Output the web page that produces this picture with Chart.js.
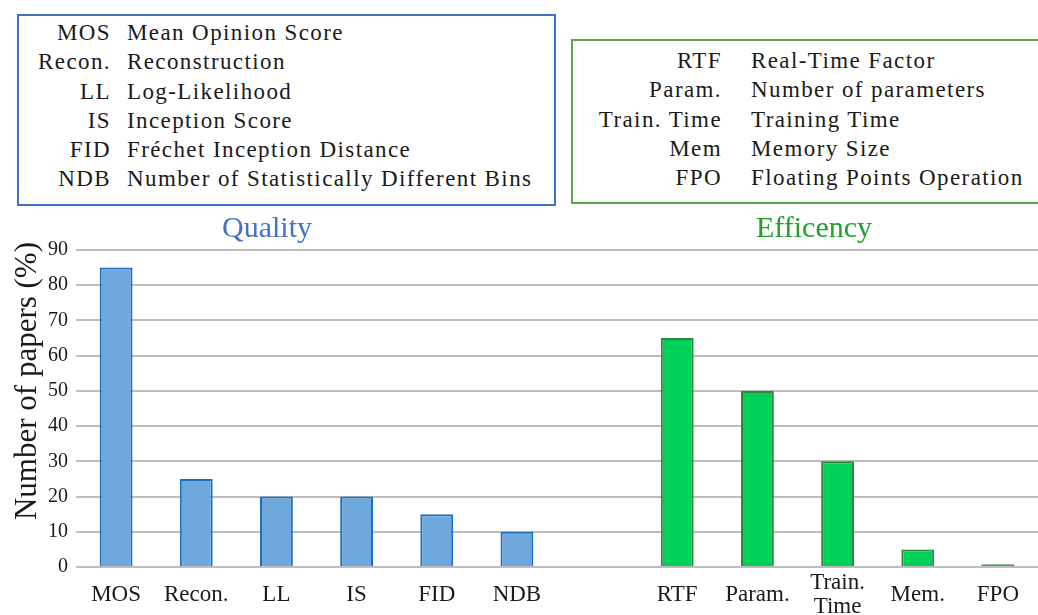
<!DOCTYPE html>
<html>
<head>
<meta charset="utf-8">
<script src="https://cdn.jsdelivr.net/npm/chart.js@4.4.0/dist/chart.umd.min.js"></script>
<style>
  html, body { margin: 0; padding: 0; background: #fff; }
  body { width: 1038px; height: 615px; position: relative; overflow: hidden; font-family: "Liberation Serif", "DejaVu Serif", serif; color: #1a1a1a; }
  #wrap { position: absolute; left: 0; top: 0; width: 1038px; height: 615px; }
  .box { position: absolute; background: #fff; font-size: 23px; letter-spacing: 1.4px; }
  .box table { border-collapse: collapse; }
  .box td { padding: 0; height: 29.3px; line-height: 29.3px; white-space: nowrap; }
  .box td.ab { text-align: right; padding-right: 16px; }
  #qbox { left: 17px; top: 14px; width: 535px; height: 188px; border: 2px solid #4472c4; }
  #qbox table { position: absolute; left: 2px; top: 2px; }
  #qbox td.ab { width: 90px; }
  #ebox { left: 571px; top: 39px; width: 480px; height: 161px; border: 2px solid #5aa54a; }
  #ebox table { position: absolute; left: 17px; top: 5px; }
  #ebox td.ab { width: 132px; padding-right: 29px; }
  .title { position: absolute; top: 210px; font-size: 30px; }
  #qt { left: 222px; color: #4472c4; }
  #et { left: 756px; color: #22a02c; }
  #ytitle { position: absolute; left: -124px; top: 365px; width: 300px; height: 32px; line-height: 32px;
            text-align: center; font-size: 31px; transform: rotate(-90deg); transform-origin: 150px 16px; white-space: nowrap; }
</style>
</head>
<body>
<div id="wrap"><canvas id="c" width="1038" height="615"></canvas></div>
<div class="box" id="qbox"><table id="qtab"></table></div>
<div class="box" id="ebox"><table id="etab"></table></div>
<div class="title" id="qt">Quality</div>
<div class="title" id="et">Efficency</div>
<div id="ytitle">Number of papers (%)</div>
<script>
const qualityLabels = ['MOS', 'Recon.', 'LL', 'IS', 'FID', 'NDB'];
const qualityValues = [85, 25, 20, 20, 15, 10];
const efficiencyLabels = ['RTF', 'Param.', ['Train.', 'Time'], 'Mem.', 'FPO'];
const efficiencyValues = [65, 50, 30, 5, 0.8];
const yTicks = [0, 10, 20, 30, 40, 50, 60, 70, 80, 90];

const qualityAbbrev = ['MOS', 'Recon.', 'LL', 'IS', 'FID', 'NDB'];
const qualityNames = ['Mean Opinion Score', 'Reconstruction', 'Log-Likelihood', 'Inception Score', 'Fréchet Inception Distance', 'Number of Statistically Different Bins'];
const efficiencyAbbrev = ['RTF', 'Param.', 'Train. Time', 'Mem', 'FPO'];
const efficiencyNames = ['Real-Time Factor', 'Number of parameters', 'Training Time', 'Memory Size', 'Floating Points Operation'];

function fillTable(id, abbrev, names) {
  const t = document.getElementById(id);
  abbrev.forEach((a, i) => {
    const tr = document.createElement('tr');
    const td1 = document.createElement('td');
    td1.className = 'ab';
    td1.textContent = a;
    const td2 = document.createElement('td');
    td2.textContent = names[i];
    tr.appendChild(td1);
    tr.appendChild(td2);
    t.appendChild(tr);
  });
}
fillTable('qtab', qualityAbbrev, qualityNames);
fillTable('etab', efficiencyAbbrev, efficiencyNames);

// one gap slot between the two groups
const labels = [...qualityLabels, '', ...efficiencyLabels];
const values = [...qualityValues, null, ...efficiencyValues];
const fills = [...qualityValues.map(() => '#6fa8dc'), 'rgba(0,0,0,0)', ...efficiencyValues.map(() => '#00cf5a')];
const borders = [...qualityValues.map(() => '#1a6fc2'), 'rgba(0,0,0,0)', ...efficiencyValues.map(() => '#2e8b3a')];

const serif = '"Liberation Serif", "DejaVu Serif", serif';

new Chart(document.getElementById('c'), {
  type: 'bar',
  data: {
    labels: labels,
    datasets: [{
      data: values,
      backgroundColor: fills,
      borderColor: borders,
      borderWidth: 2,
      categoryPercentage: 1,
      barPercentage: 0.41
    }]
  },
  options: {
    responsive: false,
    animation: false,
    layout: { padding: { top: 250, right: 0, left: 0, bottom: 0 } },
    plugins: { legend: { display: false }, tooltip: { enabled: false } },
    scales: {
      x: {
        grid: { display: false },
        border: { display: false },
        ticks: { color: '#1a1a1a', font: { family: serif, size: 23, lineHeight: 1.05 }, maxRotation: 0, autoSkip: false, padding: 8, crossAlign: 'center' },
        afterFit: (s) => { s.height = 48; }
      },
      y: {
        min: 0,
        max: 90,
        afterBuildTicks: (s) => { s.ticks = yTicks.map(v => ({ value: v })); },
        grid: { color: '#bdbdbd', lineWidth: 2, drawTicks: false },
        border: { display: false },
        ticks: { color: '#1a1a1a', font: { family: serif, size: 20 }, padding: 8 },
        afterFit: (s) => { s.width = 76; }
      }
    }
  }
});
</script>
</body>
</html>
